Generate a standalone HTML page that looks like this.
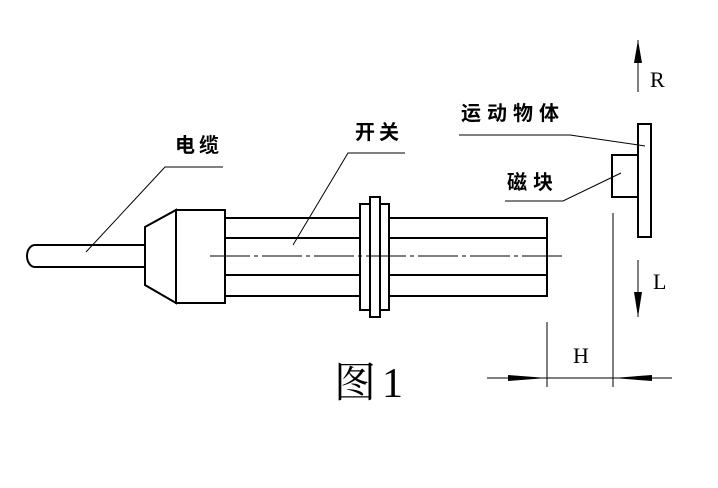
<!DOCTYPE html>
<html><head><meta charset="utf-8"><style>body{margin:0;background:#fff}svg{display:block}</style></head><body>
<svg width="718" height="488" viewBox="0 0 718 488" xmlns="http://www.w3.org/2000/svg">
<g fill="none" stroke="#000" stroke-width="2">
<path d="M145,245 H35 A8,11 0 0 0 35,267 H145"/>
<polygon points="145,227 176,210 176,303 145,285"/>
<rect x="176" y="210" width="49" height="93"/>
<path d="M225,218 H547 V296 H225 M225,238 H547 M225,275 H547"/>
<rect x="360" y="204" width="29" height="106" fill="#fff"/>
<rect x="370" y="197" width="10" height="120" fill="#fff"/>
<rect x="638" y="124" width="13" height="113"/>
<rect x="612" y="155" width="26" height="42"/>
</g>
<g stroke="#000" stroke-width="1" fill="none">
<path d="M210,256 H562" stroke-dasharray="40,4,4,4"/>
<path d="M86,252 L165,167 H223"/>
<path d="M293,245 L348,153 H405"/>
<path d="M459,135 H570 L645,146"/>
<path d="M505,201 H563 L621,173"/>
<path d="M638,40 V92 M638,260 V317"/>
<path d="M613,213 V387 M547,322 V387 M487,378 H672"/>
</g>
<g fill="#000">
<polygon points="638,40 634,63 642,63"/>
<polygon points="638,317 634,292 642,292"/>
<polygon points="547,378 508,375 508,381"/>
<polygon points="613,378 652,375 652,381"/>
</g>
<g font-family="'Liberation Sans','Noto Sans CJK SC',sans-serif" font-size="20" font-weight="bold" fill="#000">
<text x="175" y="152" letter-spacing="4">电缆</text>
<text x="355" y="139" letter-spacing="4">开关</text>
<text x="461" y="120" letter-spacing="6">运动物体</text>
<text x="507" y="189" letter-spacing="6">磁块</text>
</g>
<g font-family="'Liberation Serif',serif" font-size="22" fill="#000">
<text x="650" y="87">R</text>
<text x="653" y="289">L</text>
<text x="573" y="363">H</text>
</g>
<text x="334" y="397" font-family="'Liberation Serif','Noto Serif CJK SC',serif" font-size="42" fill="#000" letter-spacing="6">图1</text>
</svg>
</body></html>
